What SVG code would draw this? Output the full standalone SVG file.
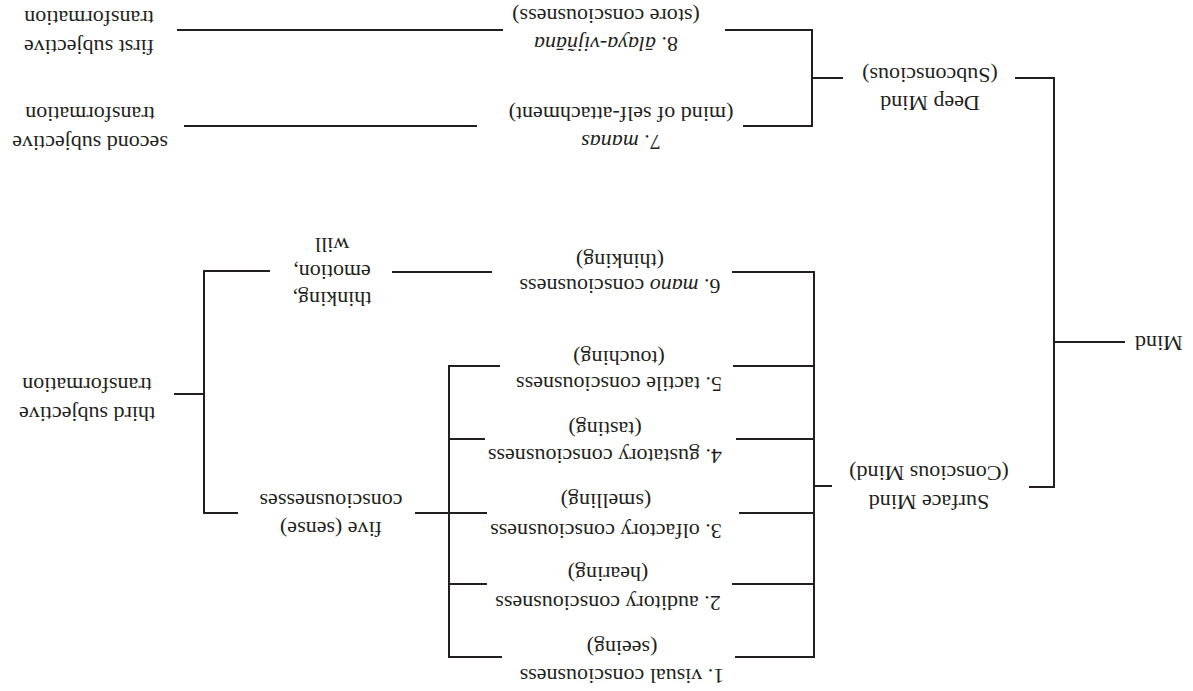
<svg xmlns="http://www.w3.org/2000/svg" width="1193" height="691" viewBox="0 0 1193 691">
<style>
text{font-family:"Liberation Serif","DejaVu Serif",serif;font-size:22px;fill:#231f20;text-anchor:middle}
.it{font-style:italic}
.c{fill:none;stroke:#231f20;stroke-width:2}
</style>
<rect width="1193" height="691" fill="#fff"/>
<g transform="rotate(180 596.5 345.5)">
<g id="connectors" class="c">
<path d="M690 661H1016"/>
<path d="M716 565H1009"/>
<path d="M468 661H381V565H450"/>
<path d="M350 613H381"/>
<path d="M178 613H139V204H164"/>
<path d="M68 349H139"/>
<path d="M361 205H379"/>
<path d="M461 419H379V34H458"/>
<path d="M379 325H460M379 252H457M379 178H454M379 107H461"/>
<path d="M693 325H744V34H691"/>
<path d="M708 252H744M706 178H778M706 107H744"/>
<path d="M955 178H989V420H923"/>
<path d="M701 419H801"/>
<path d="M989 297H1019"/>
</g>
<g id="mind"><text x="58" y="355" style="text-anchor:end">Mind</text></g>
<g id="deep-mind"><text x="263" y="595">Deep Mind</text><text x="263" y="623">(Subconscious)</text></g>
<g id="surface-mind"><text x="264" y="196">Surface Mind</text><text x="264" y="225">(Conscious Mind)</text></g>
<g id="alaya"><text x="587" y="654">8. <tspan class="it">ālaya-vijñāna</tspan></text><text x="587" y="682">(store consciousness)</text></g>
<g id="manas"><text x="572" y="556">7. <tspan class="it">manas</tspan></text><text x="572" y="584">(mind of self-attachment)</text></g>
<g id="first-transformation"><text x="1104" y="651">first subjective</text><text x="1104" y="680">transformation</text></g>
<g id="second-transformation"><text x="1103" y="555">second subjective</text><text x="1103" y="584">transformation</text></g>
<g id="third-transformation"><text x="1106" y="284">third subjective</text><text x="1106" y="313">transformation</text></g>
<g id="thinking-emotion-will"><text x="861" y="399">thinking,</text><text x="861" y="426">emotion,</text><text x="861" y="453">will</text></g>
<g id="five-sense"><text x="862" y="169">five (sense)</text><text x="862" y="197">consciousnesses</text></g>
<g id="visual"><text x="571" y="22">1. visual consciousness</text><text x="571" y="50">(seeing)</text></g>
<g id="auditory"><text x="585" y="95">2. auditory consciousness</text><text x="585" y="124">(hearing)</text></g>
<g id="olfactory"><text x="587" y="167">3. olfactory consciousness</text><text x="587" y="197">(smelling)</text></g>
<g id="gustatory"><text x="588" y="242">4. gustatory consciousness</text><text x="588" y="269">(tasting)</text></g>
<g id="tactile"><text x="574" y="314">5. tactile consciousness</text><text x="574" y="340">(touching)</text></g>
<g id="mano"><text x="573" y="412">6. <tspan class="it">mano</tspan> consciousness</text><text x="573" y="437">(thinking)</text></g>
</g>
</svg>
